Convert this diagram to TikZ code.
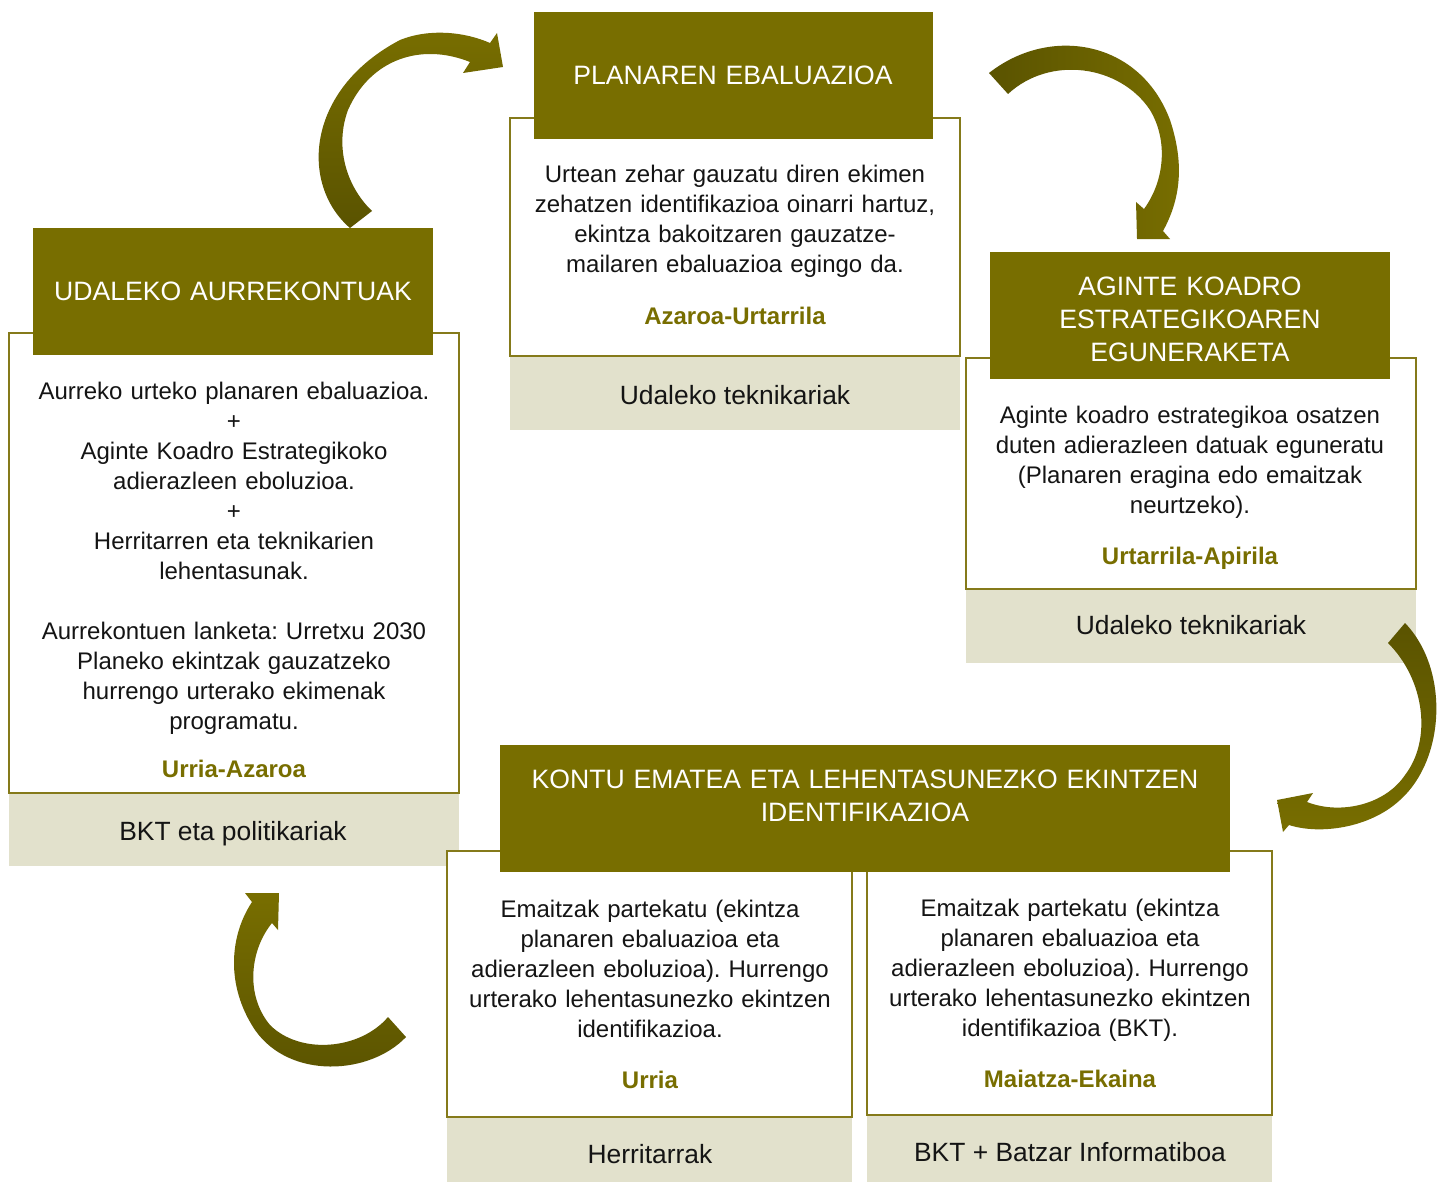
\documentclass[tikz,border=0pt]{standalone}
\usepackage{fontspec}
\setmainfont{Liberation Sans}
\frenchspacing
\definecolor{hdr}{HTML}{786E00}
\definecolor{darkol}{HTML}{5A5300}
\definecolor{band}{HTML}{E2E1CC}
\definecolor{bord}{HTML}{857A1A}
\definecolor{txt}{HTML}{141414}
\tikzset{
  outl/.style={draw=bord, line width=1pt, fill=white},
  hdrbox/.style={fill=hdr},
  bandbox/.style={fill=band},
  htext/.style={text=white, font=\fontsize{13.3}{16.5}\selectfont, align=center, text width=360pt, anchor=base, inner sep=0pt},
  btext/.style={text=txt, font=\fontsize{12}{15}\selectfont, align=center, text width=215pt, anchor=base, inner sep=0pt},
  dtext/.style={text=hdr, font=\bfseries\fontsize{12}{15}\selectfont, anchor=base, inner sep=0pt},
  gtext/.style={text=txt, font=\fontsize{13.2}{16}\selectfont, anchor=base, inner sep=0pt},
  arrowshape/.style={draw=none}
}
\begin{document}
\begin{tikzpicture}[x=0.5pt, y=-0.5pt]
\useasboundingbox (0,0) rectangle (1438,1182);
\fill[white] (0,0) rectangle (1438,1182);

% ---------- Box 1 : UDALEKO AURREKONTUAK ----------
\draw[outl] (9,333) rectangle (459,793);
\fill[hdrbox] (33,228) rectangle (433,355);
\fill[bandbox] (9,794) rectangle (459,866);
\node[htext] (h1) at (233,300) {UDALEKO AURREKONTUAK};
\node[btext] (b1) at (234,399) {Aurreko urteko planaren ebaluazioa.\\ +\\ Aginte Koadro Estrategikoko\\ adierazleen eboluzioa.\\ +\\ Herritarren eta teknikarien\\ lehentasunak.\\[15pt] Aurrekontuen lanketa: Urretxu 2030\\ Planeko ekintzak gauzatzeko\\ hurrengo urterako ekimenak\\ programatu.};
\node[dtext] (d1) at (234,777) {Urria-Azaroa};
\node[gtext] (g1) at (233,840) {BKT eta politikariak};

% ---------- Box 2 : PLANAREN EBALUAZIOA ----------
\draw[outl] (510,118) rectangle (960,356);
\fill[hdrbox] (534,12) rectangle (933,139);
\fill[bandbox] (510,357) rectangle (960,430);
\node[htext] (h2) at (733,85) {PLANAREN EBALUAZIOA};
\node[btext] (b2) at (735,183) {Urtean zehar gauzatu diren ekimen\\ zehatzen identifikazioa oinarri hartuz,\\ ekintza bakoitzaren gauzatze-\\ mailaren ebaluazioa egingo da.};
\node[dtext] (d2) at (735,324) {Azaroa-Urtarrila};
\node[gtext] (g2) at (735,404) {Udaleko teknikariak};

% ---------- Box 3 : AGINTE KOADRO ----------
\draw[outl] (966,358) rectangle (1416,589);
\fill[hdrbox] (990,252) rectangle (1390,379);
\fill[bandbox] (966,590) rectangle (1416,663);
\node[htext] (h3) at (1190,295) {AGINTE KOADRO\\ ESTRATEGIKOAREN\\ EGUNERAKETA};
\node[btext] (b3) at (1190,423) {Aginte koadro estrategikoa osatzen\\ duten adierazleen datuak eguneratu\\ (Planaren eragina edo emaitzak\\ neurtzeko).};
\node[dtext] (d3) at (1190,564) {Urtarrila-Apirila};
\node[gtext] (g3) at (1191,634) {Udaleko teknikariak};

% ---------- Box 4 : KONTU EMATEA ----------
\draw[outl] (447,851) rectangle (852,1117);
\draw[outl] (867,851) rectangle (1272,1115);
\fill[hdrbox] (500,745) rectangle (1230,872);
\fill[bandbox] (447,1118) rectangle (852,1182);
\fill[bandbox] (867,1116) rectangle (1272,1182);
\node[htext, text width=400pt] (h4) at (865,788) {KONTU EMATEA ETA LEHENTASUNEZKO EKINTZEN\\ IDENTIFIKAZIOA};
\node[btext, text width=195pt] (b4a) at (650,917) {Emaitzak partekatu (ekintza\\ planaren ebaluazioa eta\\ adierazleen eboluzioa). Hurrengo\\ urterako lehentasunezko ekintzen\\ identifikazioa.};
\node[dtext] (d4a) at (650,1088) {Urria};
\node[gtext] (g4a) at (650,1163) {Herritarrak};
\node[btext, text width=195pt] (b4b) at (1070,916) {Emaitzak partekatu (ekintza\\ planaren ebaluazioa eta\\ adierazleen eboluzioa). Hurrengo\\ urterako lehentasunezko ekintzen\\ identifikazioa (BKT).};
\node[dtext] (d4b) at (1070,1087) {Maiatza-Ekaina};
\node[gtext] (g4b) at (1070,1161) {BKT + Batzar Informatiboa};

% ---------- Curved arrows ----------
% A: box 1 -> box 2
\shade[arrowshape, top color=hdr, bottom color=darkol]
  (350,228) .. controls (300,185) and (305,90) .. (400,40)
  .. controls (430,28) and (465,32) .. (490,43)
  -- (497,33) -- (503,67) -- (463,73) -- (470,62)
  .. controls (420,42) and (370,60) .. (348,110)
  .. controls (335,145) and (345,185) .. (372,211) -- cycle;
% B: box 2 -> box 3
\shade[arrowshape, left color=darkol, right color=hdr]
  (989,73) .. controls (1050,25) and (1140,40) .. (1170,120)
  .. controls (1185,165) and (1180,200) .. (1163,231)
  -- (1170,239) -- (1137,239) -- (1136,202) -- (1144,209)
  .. controls (1165,180) and (1168,140) .. (1150,110)
  .. controls (1120,65) and (1050,55) .. (1008,94) -- cycle;
% C: box 3 -> box 4
\shade[arrowshape, top color=darkol, bottom color=hdr]
  (1405,623) .. controls (1450,670) and (1445,760) .. (1400,800)
  .. controls (1370,828) and (1320,835) .. (1289,825)
  -- (1283,832) -- (1277,800) -- (1313,793) -- (1307,802)
  .. controls (1340,815) and (1385,805) .. (1405,775)
  .. controls (1432,740) and (1425,680) .. (1388,643) -- cycle;
% D: box 4 -> box 1
\shade[arrowshape, top color=hdr, bottom color=darkol]
  (406,1037) .. controls (370,1075) and (290,1080) .. (255,1030)
  .. controls (225,985) and (230,935) .. (252,902)
  -- (245,893) -- (279,893) -- (278,930) -- (272,923)
  .. controls (250,950) and (245,995) .. (270,1025)
  .. controls (300,1055) and (360,1050) .. (388,1017) -- cycle;
\end{tikzpicture}
\end{document}
